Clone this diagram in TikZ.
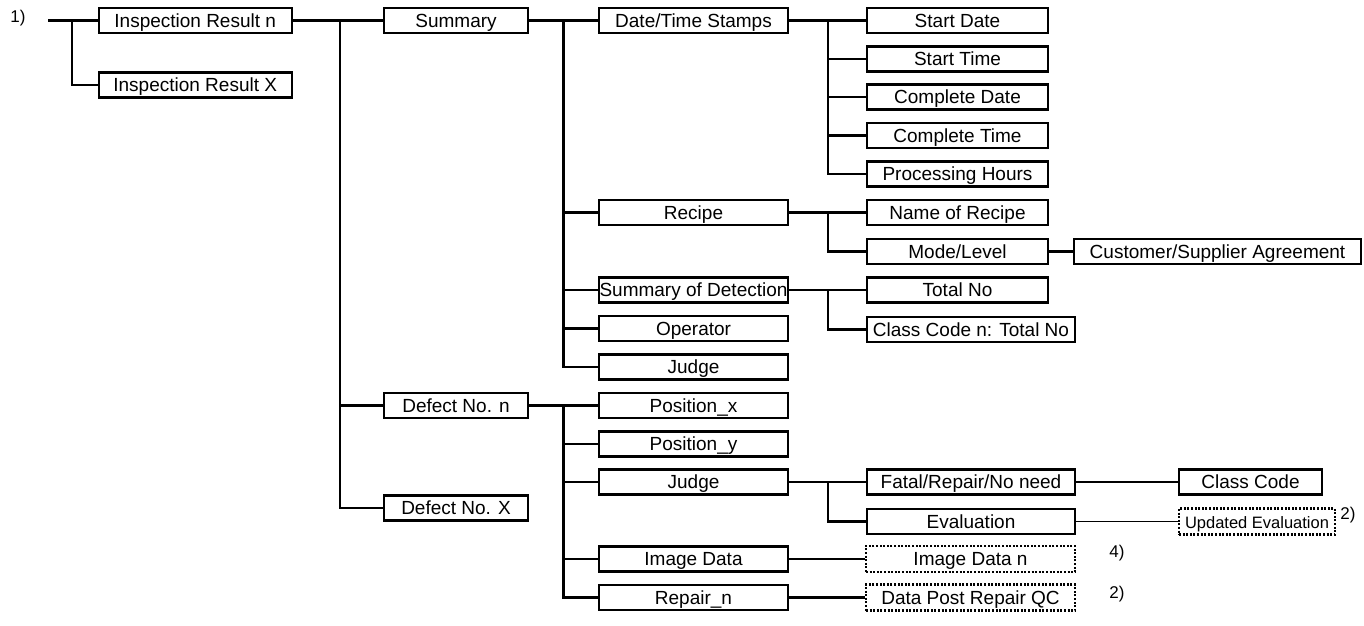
\documentclass[tikz,border=0pt]{standalone}
\usepackage{fontspec}
\setmainfont{Liberation Sans}
\begin{document}
\begin{tikzpicture}[x=1pt,y=-1pt,
  box/.style={draw, line width=2.3pt, inner sep=0pt, minimum height=25pt,
    text height=17pt, text depth=3.4pt,
    font=\fontsize{19}{21}\selectfont},
  dotbox/.style={box, line width=2.4pt, dash pattern=on 2pt off 1.6pt, minimum height=26pt},
  link/.style={line width=2.1pt},
  thin link/.style={line width=1.6pt},
  tag/.style={font=\fontsize{17}{19}\selectfont, inner sep=0pt}]
\useasboundingbox (0,0) rectangle (1364,625);

% first level
\node[box, minimum width=193pt] (irn) at (195.2,20.5) {Inspection Result n};
\node[box, minimum width=193pt] (irx) at (195.2,85) {Inspection Result X};

% second level
\node[box, minimum width=144pt] (sum)  at (456,20.5)  {Summary};
\node[box, minimum width=144pt] (defn) at (456,405.5) {Defect No. n};
\node[box, minimum width=144pt] (defx) at (456,508)   {Defect No. X};

% summary items
\node[box, minimum width=189pt] (dts)  at (693.5,20.5)  {Date/Time Stamps};
\node[box, minimum width=189pt] (rec)  at (693.5,212.5) {Recipe};
\node[box, minimum width=189pt] (sod)  at (693.5,290)   {Summary of Detection};
\node[box, minimum width=189pt] (op)   at (693.5,328.5) {Operator};
\node[box, minimum width=189pt] (jdgs) at (693.5,367)   {Judge};

% defect items
\node[box, minimum width=189pt] (posx) at (693.5,405.5) {Position\_x};
\node[box, minimum width=189pt] (posy) at (693.5,444)   {Position\_y};
\node[box, minimum width=189pt] (jdgd) at (693.5,482)   {Judge};
\node[box, minimum width=189pt] (img)  at (693.5,559)   {Image Data};
\node[box, minimum width=189pt] (rep)  at (693.5,597.5) {Repair\_n};

% time stamps
\node[box, minimum width=181pt] (sdate) at (957.5,20.5)  {Start Date};
\node[box, minimum width=181pt] (stime) at (957.5,59)    {Start Time};
\node[box, minimum width=181pt] (cdate) at (957.5,97)    {Complete Date};
\node[box, minimum width=181pt] (ctime) at (957.5,135.5) {Complete Time};
\node[box, minimum width=181pt] (phrs)  at (957.5,174)   {Processing Hours};

% recipe and detection details
\node[box, minimum width=181pt] (nrec)  at (957.5,212.5) {Name of Recipe};
\node[box, minimum width=181pt] (mode)  at (957.5,251.5) {Mode/Level};
\node[box, minimum width=287pt] (cust)  at (1217.5,251.5) {Customer/Supplier Agreement};
\node[box, minimum width=181pt] (tot)   at (957.5,290)   {Total No};
\node[box, minimum width=208pt] (cctot) at (971,329.5)   {Class Code n: Total No};

% judge details
\node[box, minimum width=208pt] (fatal) at (971,482)    {Fatal/Repair/No need};
\node[box, minimum width=208pt] (eval)  at (971,521.5)  {Evaluation};
\node[box, minimum width=143pt] (cc)    at (1250.5,482) {Class Code};
\node[dotbox, minimum width=156pt, font=\fontsize{16.5}{18}\selectfont] (upd) at (1257,521.5) {Updated Evaluation};
\node[dotbox, minimum width=209pt] (imgn) at (970.5,559)   {Image Data n};
\node[dotbox, minimum width=209pt] (post) at (970.5,597.5) {Data Post Repair QC};

% notes
\node[tag] (n1) at (18,18) {1)};
\node[tag] (n2a) at (1348,515) {2)};
\node[tag] (n4) at (1117,553) {4)};
\node[tag] (n2b) at (1117,594) {2)};

% junction points
\coordinate (root) at (48,20.5);
\coordinate (j0) at (72,20.5);
\coordinate (j1) at (340,20.5);
\coordinate (j2) at (563.5,20.5);
\coordinate (j3) at (828,20.5);
\coordinate (j4) at (828,212.5);
\coordinate (j5) at (828,290);
\coordinate (j6) at (563.5,405.5);
\coordinate (j7) at (828,482);

% connectors
\draw[link] (root) -- (irn.west);
\draw[link] (j0) |- (irx.west);
\draw[link] (irn.east) -- (sum.west);
\draw[link] (j1) |- (defn.west);
\draw[link] (j1) |- (defx.west);

\draw[link] (sum.east) -- (dts.west);
\draw[link] (j2) |- (rec.west);
\draw[link] (j2) |- (sod.west);
\draw[link] (j2) |- (op.west);
\draw[link] (j2) |- (jdgs.west);

\draw[link] (dts.east) -- (sdate.west);
\draw[link] (j3) |- (stime.west);
\draw[link] (j3) |- (cdate.west);
\draw[link] (j3) |- (ctime.west);
\draw[link] (j3) |- (phrs.west);

\draw[link] (rec.east) -- (nrec.west);
\draw[link] (j4) |- (mode.west);
\draw[link] (mode.east) -- (cust.west);

\draw[link] (sod.east) -- (tot.west);
\draw[link] (j5) |- (cctot.west);

\draw[link] (defn.east) -- (posx.west);
\draw[link] (j6) |- (posy.west);
\draw[link] (j6) |- (jdgd.west);
\draw[link] (j6) |- (img.west);
\draw[link] (j6) |- (rep.west);

\draw[link] (jdgd.east) -- (fatal.west);
\draw[link] (j7) |- (eval.west);
\draw[thin link] (fatal.east) -- (cc.west);
\draw[thin link] (eval.east) -- (upd.west);
\draw[link] (img.east) -- (imgn.west);
\draw[link] (rep.east) -- (post.west);
\end{tikzpicture}
\end{document}
